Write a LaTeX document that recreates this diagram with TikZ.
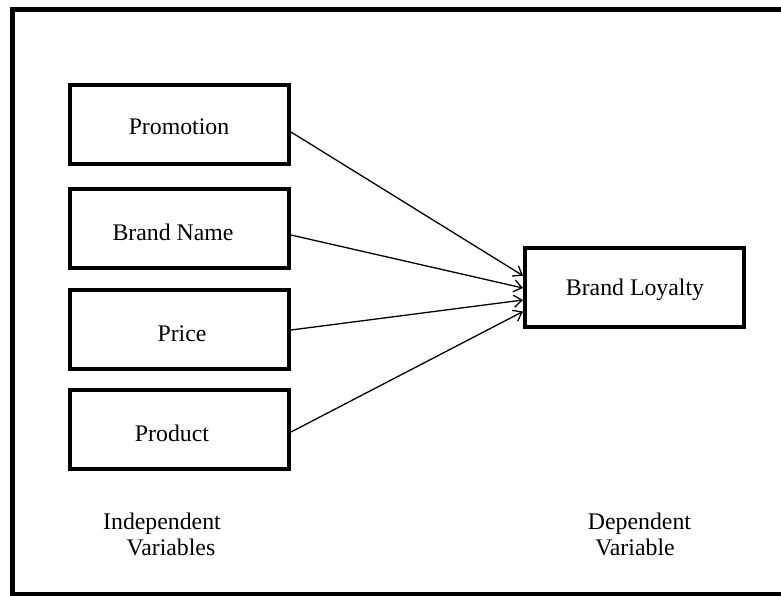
\documentclass[tikz,border=0pt]{standalone}
\usepackage{fontspec}
\setmainfont{Liberation Serif}
\usetikzlibrary{arrows.meta}
\begin{document}
\begin{tikzpicture}[x=1pt,y=-1pt,
  varbox/.style={draw=black,line width=4pt,rectangle,minimum width=219pt,minimum height=79pt,inner sep=0pt},
  lbl/.style={anchor=base,inner sep=0pt,font=\fontsize{23.8}{28}\selectfont},
  link/.style={line width=1.3pt,-{Straight Barb[length=8pt,width=12pt,line width=1.3pt]}}]
\useasboundingbox (0,0) rectangle (781,595);
\clip (0,0) rectangle (781,595);
\fill[white] (0,0) rectangle (781,595);
\draw[line width=5pt] (12.5,9.5) rectangle (820,594.5);

\node[varbox] (promo) at (179.5,124) {};
\node[varbox] (bname) at (179.5,228) {};
\node[varbox] (price) at (179.5,329) {};
\node[varbox] (prod)  at (179.5,429) {};
\node[varbox] (loyal) at (634.5,287.5) {};

\node[lbl] (tpromo) at (179,134) {Promotion};
\node[lbl] (tbname) at (173,240) {Brand Name};
\node[lbl] (tprice) at (182,341) {Price};
\node[lbl] (tprod)  at (172,441) {Product};
\node[lbl] (tloyal) at (635,295) {Brand Loyalty};

\node[lbl] (indep1) at (162,529) {Independent};
\node[lbl] (indep2) at (171,555) {Variables};
\node[lbl] (dep1) at (639.5,529) {Dependent};
\node[lbl] (dep2) at (635,555) {Variable};

\draw[link] ([yshift=-8pt]promo.east) -- ([yshift=11.8pt]loyal.west);
\draw[link] ([yshift=-7pt]bname.east) -- ([yshift=-0.5pt]loyal.west);
\draw[link] ([yshift=-1pt]price.east) -- ([yshift=-12.5pt]loyal.west);
\draw[link] ([yshift=-3pt]prod.east) -- ([yshift=-24pt]loyal.west);
\end{tikzpicture}
\end{document}
